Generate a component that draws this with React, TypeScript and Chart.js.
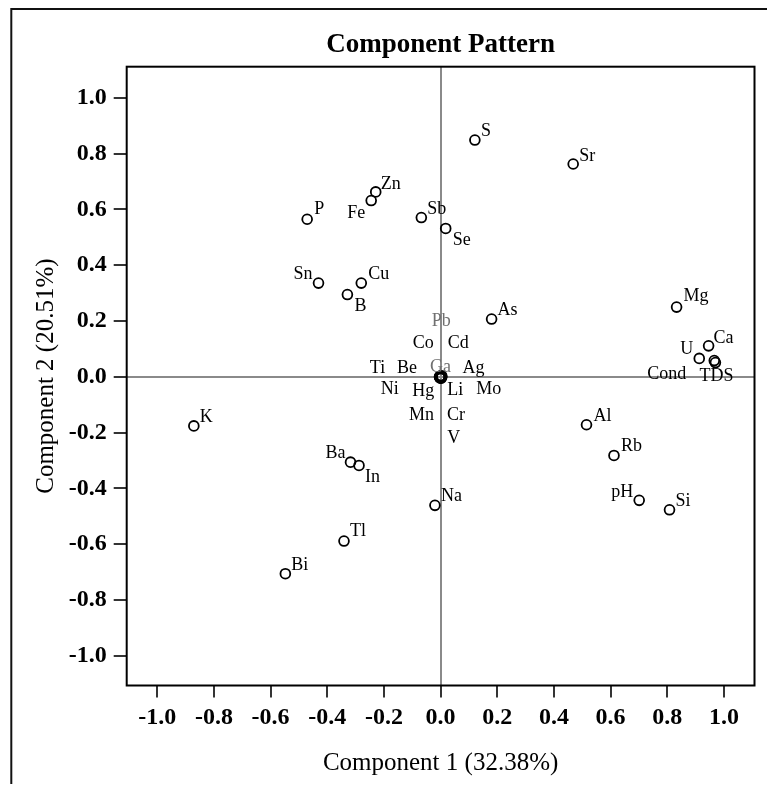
import React, { useEffect, useRef } from 'react';
import { Chart, registerables } from 'chart.js';

Chart.register(...registerables);

// ---- Data ----
const elements = [
  'S', 'Sr', 'Zn', 'Fe', 'P', 'Sb', 'Se', 'Sn', 'Cu', 'B', 'As', 'Mg', 'Ca', 'U', 'Cond', 'TDS',
  'Al', 'Rb', 'pH', 'Si', 'K', 'Ba', 'In', 'Na', 'Tl', 'Bi',
  'Pb', 'Co', 'Cd', 'Ti', 'Be', 'Ga', 'Ag', 'Ni', 'Hg', 'Li', 'Mo', 'Mn', 'Cr', 'V',
];
const component1 = [
  0.121, 0.468, -0.229, -0.245, -0.471, -0.068, 0.018, -0.431, -0.280, -0.329, 0.180, 0.833, 0.946, 0.913, 0.966, 0.970,
  0.515, 0.612, 0.701, 0.808, -0.871, -0.318, -0.288, -0.020, -0.341, -0.548,
  0.002, -0.003, 0.004, -0.004, -0.002, 0.000, 0.003, -0.003, -0.001, 0.002, 0.004, -0.002, 0.001, 0.002,
];
const component2 = [
  0.849, 0.763, 0.663, 0.632, 0.565, 0.571, 0.532, 0.336, 0.336, 0.295, 0.207, 0.250, 0.111, 0.066, 0.058, 0.051,
  -0.172, -0.282, -0.443, -0.477, -0.176, -0.306, -0.318, -0.461, -0.589, -0.706,
  0.004, 0.002, 0.003, 0.000, 0.001, 0.002, 0.000, -0.002, -0.003, -0.002, -0.001, -0.004, -0.004, -0.005,
];
const tickValues = [-1.0, -0.8, -0.6, -0.4, -0.2, 0.0, 0.2, 0.4, 0.6, 0.8, 1.0];
const chartTitle = 'Component Pattern';
const xTitle = 'Component 1 (32.38%)';
const yTitle = 'Component 2 (20.51%)';
const grayLabels = ['Ga', 'Pb'];

// ---- Layout: label placement relative to each marker [dx, dy(baseline), align] ----
const labelPlacement: Record<string, [number, number, CanvasTextAlign]> = {
  S: [6, -4, 'left'], Sr: [6, -3, 'left'], Zn: [5, -3, 'left'], Fe: [-6, 17, 'right'],
  P: [7, -5, 'left'], Sb: [6, -4, 'left'], Se: [7, 17, 'left'], Sn: [-6, -4, 'right'],
  Cu: [7, -4, 'left'], B: [7, 16, 'left'], As: [6, -4, 'left'], Mg: [7, -6, 'left'],
  Ca: [5, -3, 'left'], U: [-6, -4, 'right'], Cond: [-28, 18, 'right'], TDS: [1, 18, 'center'],
  Al: [7, -4, 'left'], Rb: [7, -4, 'left'], pH: [-6, -3, 'right'], Si: [6, -4, 'left'],
  K: [6, -4, 'left'], Ba: [-5, -4, 'right'], In: [6, 17, 'left'], Na: [6, -4, 'left'],
  Tl: [6, -5, 'left'], Bi: [6, -4, 'left'],
  Pb: [0, -50, 'center'], Co: [-6, -28, 'right'], Cd: [6, -28, 'left'],
  Ti: [-62, -4, 'center'], Be: [-33, -4, 'center'], Ga: [0, -4, 'center'], Ag: [32, -4, 'center'],
  Ni: [-50, 17, 'center'], Hg: [-6, 18, 'right'], Li: [6, 18, 'left'], Mo: [47, 17, 'center'],
  Mn: [-6, 42, 'right'], Cr: [6, 42, 'left'], V: [6, 65, 'left'],
};

const FONT = "'Liberation Serif', 'Times New Roman', Times, serif";
const W = 759;
const H = 776;

export default function App() {
  const ref = useRef<HTMLCanvasElement>(null);

  useEffect(() => {
    if (!ref.current) return;

    const pointLabels = {
      id: 'pointLabels',
      afterDatasetsDraw(chart: any) {
        const ctx = chart.ctx;
        const meta = chart.getDatasetMeta(0);
        ctx.save();
        ctx.font = `18px ${FONT}`;
        ctx.textBaseline = 'alphabetic';
        meta.data.forEach((pt: any, i: number) => {
          const name = elements[i];
          const [dx, dy, align] = labelPlacement[name] || [6, -4, 'left'];
          ctx.fillStyle = grayLabels.includes(name) ? '#707070' : '#000000';
          ctx.textAlign = align;
          ctx.fillText(name, pt.x + dx, pt.y + dy);
        });
        ctx.restore();
      },
    };

    const frames = {
      id: 'frames',
      afterDatasetsDraw(chart: any) {
        const { left, top, right, bottom } = chart.chartArea;
        const ctx = chart.ctx;
        ctx.save();
        ctx.strokeStyle = '#000';
        ctx.lineWidth = 2;
        ctx.strokeRect(left, top, right - left, bottom - top);
        ctx.restore();
      },
      afterDraw(chart: any) {
        const { left, right } = chart.chartArea;
        const ctx = chart.ctx;
        ctx.save();
        // plot title, centred over the plot area
        ctx.fillStyle = '#000';
        ctx.font = `bold 27px ${FONT}`;
        ctx.textAlign = 'center';
        ctx.textBaseline = 'middle';
        ctx.fillText(chartTitle, (left + right) / 2, 37);
        // outer frame (top and left edges visible)
        ctx.strokeStyle = '#111';
        ctx.lineWidth = 2;
        ctx.beginPath();
        ctx.moveTo(3.3, H + 5);
        ctx.lineTo(3.3, 1);
        ctx.lineTo(W + 5, 1);
        ctx.stroke();
        ctx.restore();
      },
    };

    const zeroGrid = (c: any) => (c.tick && c.tick.value === 0 ? '#8a8a8a' : 'rgba(0,0,0,0)');
    const setTicks = (scale: any) => {
      scale.ticks = tickValues.map((v) => ({ value: v }));
    };

    const chart = new Chart(ref.current, {
      type: 'scatter',
      data: {
        labels: elements,
        datasets: [
          {
            data: elements.map((_, i) => ({ x: component1[i], y: component2[i] })),
            pointStyle: 'circle',
            pointRadius: 4.9,
            pointBorderWidth: 1.8,
            pointBorderColor: '#000',
            pointBackgroundColor: 'rgba(0,0,0,0)',
            borderColor: '#000',
            backgroundColor: 'rgba(0,0,0,0)',
          },
        ],
      },
      options: {
        animation: false,
        responsive: false,
        layout: { padding: { left: 0, right: 12.5, top: 58.7, bottom: 0 } },
        plugins: {
          legend: { display: false },
          tooltip: { enabled: false },
          title: { display: false },
        },
        scales: {
          x: {
            type: 'linear',
            min: -1.108,
            max: 1.108,
            afterBuildTicks: setTicks,
            afterFit: (s: any) => {
              s.height = 98.5;
            },
            border: { display: false },
            grid: {
              drawOnChartArea: true,
              color: zeroGrid,
              lineWidth: 2,
              drawTicks: true,
              tickLength: 12,
              tickWidth: 1.6,
              tickColor: '#000',
            },
            ticks: {
              color: '#000',
              padding: 6,
              maxRotation: 0,
              autoSkip: false,
              font: { family: FONT, size: 24, weight: 'bold' },
              callback: (v: any) => Number(v).toFixed(1),
            },
            title: {
              display: true,
              text: xTitle,
              color: '#000',
              font: { family: FONT, size: 25 },
              padding: { top: 0, bottom: 6 },
            },
          },
          y: {
            type: 'linear',
            min: -1.107,
            max: 1.112,
            afterBuildTicks: setTicks,
            afterFit: (s: any) => {
              s.width = 118.7;
            },
            border: { display: false },
            grid: {
              drawOnChartArea: true,
              color: zeroGrid,
              lineWidth: 2,
              drawTicks: true,
              tickLength: 13,
              tickWidth: 1.6,
              tickColor: '#000',
            },
            ticks: {
              color: '#000',
              padding: 7,
              autoSkip: false,
              font: { family: FONT, size: 24, weight: 'bold' },
              callback: (v: any) => Number(v).toFixed(1),
            },
            title: {
              display: true,
              text: yTitle,
              color: '#000',
              font: { family: FONT, size: 25 },
              padding: { top: 23, bottom: 0 },
            },
          },
        },
      },
      plugins: [pointLabels, frames],
    });

    return () => chart.destroy();
  }, []);

  return (
    <div style={{ width: W, height: H, background: '#fff' }}>
      <canvas ref={ref} width={W} height={H} style={{ display: 'block' }} />
    </div>
  );
}
